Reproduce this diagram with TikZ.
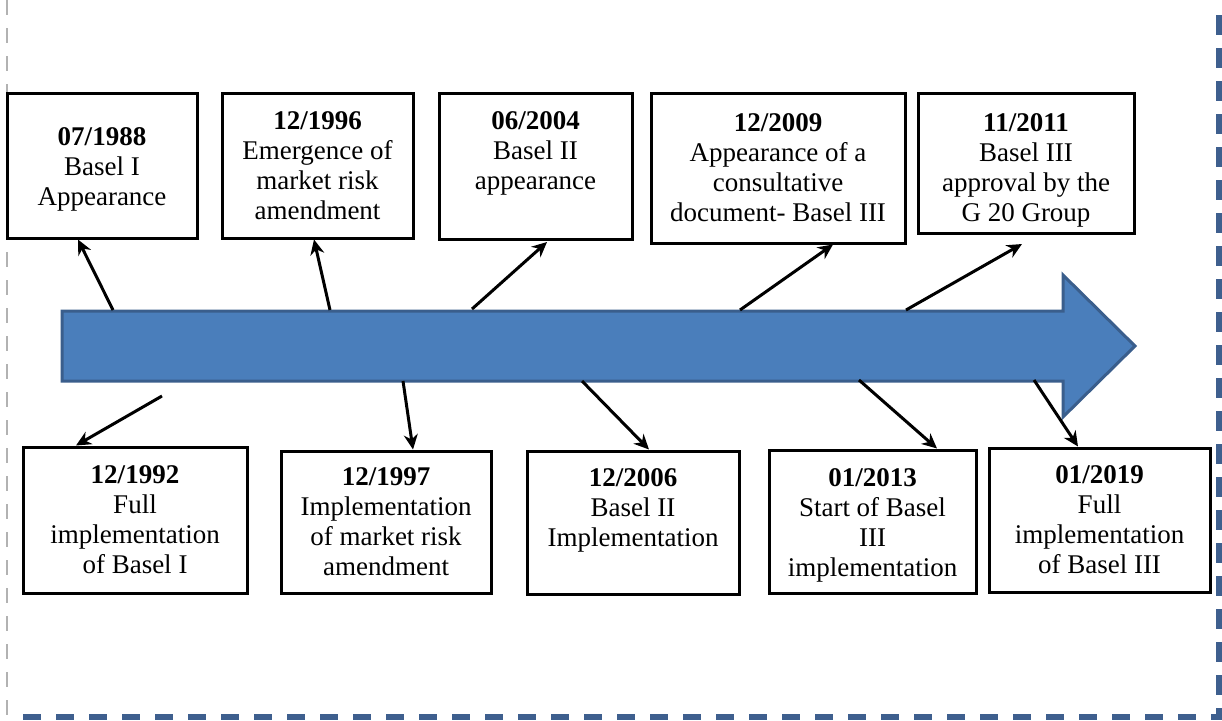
\documentclass[tikz,border=0pt]{standalone}
\usepackage{fontspec}
\setmainfont{Liberation Serif}
\usetikzlibrary{arrows.meta}
\definecolor{arrowblue}{HTML}{4A7EBB}
\definecolor{arrowedge}{HTML}{3A5E8C}
\definecolor{frameblue}{HTML}{3E5F8E}
\tikzset{
  evbox/.style={draw=black, line width=1.5pt, fill=white, inner sep=0pt, align=center,
    font=\fontsize{13.5pt}{15pt}\selectfont},
  conn/.style={draw=black, line width=1.5pt, -{Stealth[length=7.5pt,width=7pt]}},
}
\newcommand{\dt}[1]{\textbf{#1}}
\begin{document}
\begin{tikzpicture}[x=0.5pt,y=-0.5pt]
\useasboundingbox (0,0) rectangle (1222,720);
% frame
\draw[gray!60, line width=1pt, dash pattern=on 7.5pt off 6.5pt] (7,0) -- (7,720);
\draw[frameblue, line width=2.6pt, dash pattern=on 10pt off 6.5pt] (1219,15) -- (1219,720);
\draw[frameblue, line width=2.6pt, dash pattern=on 9pt off 7.5pt] (23,717) -- (1222,717);
% timeline arrow
\draw[fill=arrowblue, draw=arrowedge, line width=1.5pt, line join=miter]
  (62,311) -- (1063,311) -- (1063,275) -- (1135,346) -- (1063,417) -- (1063,381) -- (62,381) -- cycle;
% boxes top
\node[evbox, minimum width=95pt, minimum height=72.5pt] (b1) at (102,165.5) {\rule{0pt}{13pt}\dt{07/1988}\\Basel I\\Appearance};
\node[evbox, minimum width=95.5pt, minimum height=72.5pt] (b2) at (317.5,165.5) {\dt{12/1996}\\Emergence of\\market risk\\amendment};
\node[evbox, minimum width=96.5pt, minimum height=73pt] (b3) at (535.5,166) {\dt{06/2004}\\Basel II\\appearance\\~};
\node[evbox, minimum width=127pt, minimum height=75pt] (b4) at (778,168) {\dt{12/2009}\\Appearance of a\\consultative\\document- Basel III};
\node[evbox, minimum width=108pt, minimum height=70pt] (b5) at (1026,163) {\rule{0pt}{16pt}\dt{11/2011}\\Basel III\\approval by the\\G 20 Group};
% boxes bottom
\node[evbox, minimum width=112pt, minimum height=73pt] (b6) at (135,520) {\dt{12/1992}\\Full\\implementation\\of Basel I};
\node[evbox, minimum width=105pt, minimum height=71pt] (b7) at (386,522) {\dt{12/1997}\\Implementation\\of market risk\\amendment};
\node[evbox, minimum width=106pt, minimum height=71.5pt] (b8) at (633,522.5) {\dt{12/2006}\\Basel II\\Implementation\\~};
\node[evbox, minimum width=103.5pt, minimum height=71.5pt] (b9) at (872.5,521.5) {\rule{0pt}{13pt}\dt{01/2013}\\Start of Basel\\III\\implementation};
\node[evbox, minimum width=110.5pt, minimum height=72pt] (b10) at (1099.5,520) {\dt{01/2019}\\Full\\implementation\\of Basel III};
% connector start points on the timeline
\coordinate (s1) at (113,310);
\coordinate (s2) at (330,310);
\coordinate (s3) at (472,309);
\coordinate (s4) at (740,310);
\coordinate (s5) at (906,310);
\coordinate (s6) at (162,396);
\coordinate (s7) at (403,381);
\coordinate (s8) at (582,381);
\coordinate (s9) at (859,380);
\coordinate (s10) at (1034,380);
% connectors
\draw[conn] (s1) -- (b1.south -| 78,0);
\draw[conn] (s2) -- (b2.south -| 314,0);
\draw[conn] (s3) -- (547,242);
\draw[conn] (s4) -- (b4.south -| 833,0);
\draw[conn] (s5) -- (1022,244);
\draw[conn] (s6) -- (b6.north -| 76,0);
\draw[conn] (s7) -- (b7.north -| 413,0);
\draw[conn] (s8) -- (b8.north -| 649,0);
\draw[conn] (s9) -- (b9.north -| 937,0);
\draw[conn] (s10) -- (b10.north -| 1078,0);
\end{tikzpicture}
\end{document}
